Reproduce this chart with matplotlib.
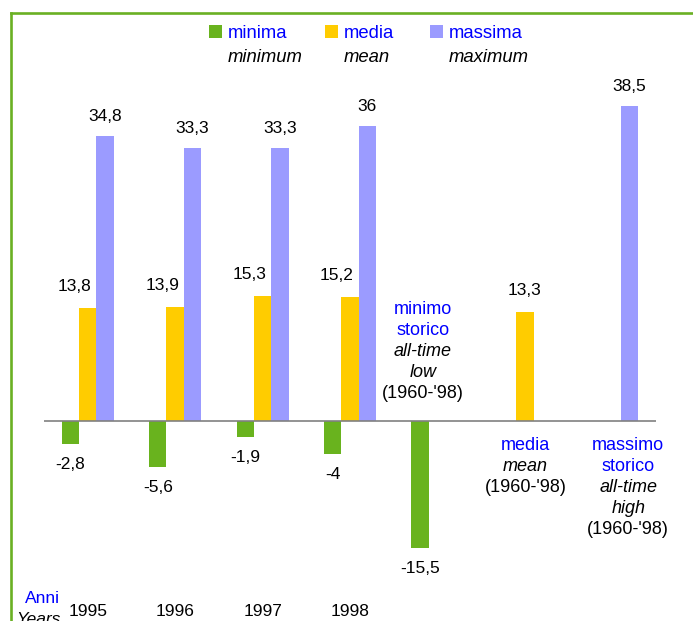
import matplotlib
matplotlib.use("Agg")
import matplotlib.pyplot as plt
import matplotlib.patches as mpatches
from matplotlib.transforms import blended_transform_factory
import numpy as np

plt.rcParams["font.family"] = ["Liberation Sans", "DejaVu Sans"]

# ── data ────────────────────────────────────────────────────────────────────
categories = ["1995", "1996", "1997", "1998", "low", "mean", "high"]
year_labels = ["1995", "1996", "1997", "1998"]
nan = np.nan
minima = [-2.8, -5.6, -1.9, -4.0, -15.5, nan, nan]
media = [13.8, 13.9, 15.3, 15.2, nan, 13.3, nan]
massima = [34.8, 33.3, 33.3, 36.0, nan, nan, 38.5]

GREEN = "#69b31e"
YELLOW = "#ffcc00"
LILAC = "#9b9bff"
BLUE = "#0000ff"
FRAME = "#6ab023"
NUM_FS = 12.5

W, H = 693, 621
fig = plt.figure(figsize=(W / 100, H / 100), dpi=100)

# overlay axes in pixel coordinates (frame, legend, captions)
ov = fig.add_axes([0, 0, 1, 1], zorder=0)
ov.set_xlim(0, W)
ov.set_ylim(H, 0)
ov.set_axis_off()

# main axes
ax = fig.add_axes([44 / W, (H - 584.8) / H, 612 / W, 491.4 / H], zorder=1)
ax.patch.set_alpha(0)
x = np.arange(len(categories))
bw = 0.198
ax.bar(x - bw, minima, bw, color=GREEN, zorder=2)
ax.bar(x, media, bw, color=YELLOW, zorder=2)
ax.bar(x + bw, massima, bw, color=LILAC, zorder=2)
ax.axhline(0, color="#808080", lw=1.2, zorder=3)
ax.set_xlim(-0.5, len(categories) - 0.5)
ax.set_ylim(-20, 40)
ax.set_axis_off()


def fmt(v):
    return f"{v:g}".replace(".", ",")


# value labels
for i, v in enumerate(minima):
    if not np.isnan(v):
        ax.annotate(fmt(v), (x[i] - bw, v), xytext=(0, -25), textcoords="offset pixels",
                    ha="center", va="baseline", fontsize=NUM_FS)
for i, v in enumerate(media):
    if not np.isnan(v):
        dx = -13 if i < 4 else 0
        ax.annotate(fmt(v), (x[i], v), xytext=(dx, 17), textcoords="offset pixels",
                    ha="center", va="baseline", fontsize=NUM_FS)
for i, v in enumerate(massima):
    if not np.isnan(v):
        ax.annotate(fmt(v), (x[i] + bw, v), xytext=(0, 15), textcoords="offset pixels",
                    ha="center", va="baseline", fontsize=NUM_FS)

# x labels (x in data, y in pixels)
tr = blended_transform_factory(ax.transData, ov.transData)
for i, lab in enumerate(year_labels):
    ov.text(x[i], 616, lab, transform=tr, ha="center", va="baseline", fontsize=NUM_FS)
ov.text(60, 603, "Anni", ha="right", va="baseline", fontsize=12.5, color=BLUE)
ov.text(61, 624, "Years", ha="right", va="baseline", fontsize=12.5, style="italic")

# category captions: (text, color, italic)
captions = {
    4: (3.835, [("minimo", BLUE, False), ("storico", BLUE, False),
                ("all-time", "black", True), ("low", "black", True),
                ("(1960-'98)", "black", False)], 314),
    5: (5.009, [("media", BLUE, False), ("mean", "black", True),
                ("(1960-'98)", "black", False)], 450),
    6: (6.183, [("massimo", BLUE, False), ("storico", BLUE, False),
                ("all-time", "black", True), ("high", "black", True),
                ("(1960-'98)", "black", False)], 450),
}
for key, (xc, lines, y0) in captions.items():
    for j, (t, c, it) in enumerate(lines):
        ov.text(xc, y0 + 21 * j, t, transform=tr, ha="center", va="baseline",
                fontsize=13, color=c, style="italic" if it else "normal")

# legend
legend = [(209, GREEN, "minima", "minimum"), (325, YELLOW, "media", "mean"),
          (430, LILAC, "massima", "maximum")]
for lx, col, it_lab, en_lab in legend:
    ov.add_patch(mpatches.Rectangle((lx, 25), 13, 13, color=col, lw=0))
    ov.text(lx + 19, 37.5, it_lab, ha="left", va="baseline", fontsize=13.3, color=BLUE)
    ov.text(lx + 19, 62, en_lab, ha="left", va="baseline", fontsize=13.3, style="italic")

# green frame (top and left)
ov.plot([11, W + 5], [13, 13], color=FRAME, lw=1.9, solid_capstyle="projecting")
ov.plot([11, 11], [13, H + 5], color=FRAME, lw=1.9, solid_capstyle="projecting")

fig.savefig("out.png", dpi=100)
